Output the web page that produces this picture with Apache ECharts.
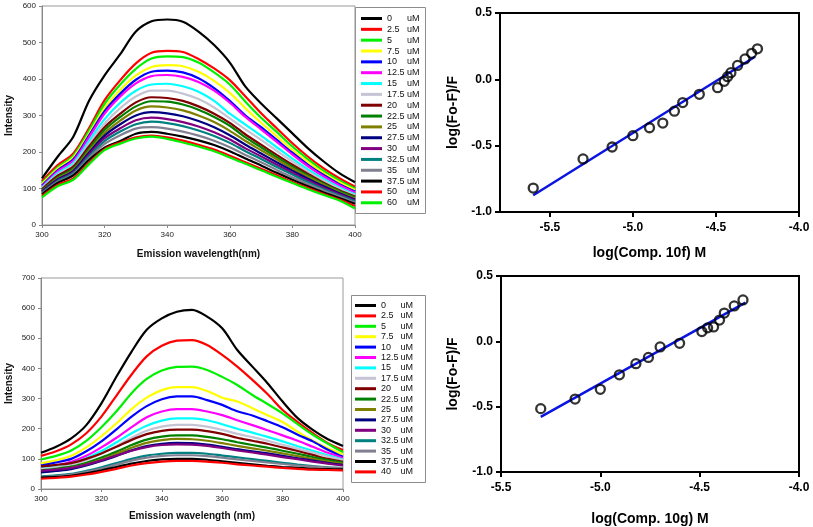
<!DOCTYPE html>
<html><head><meta charset="utf-8">
<script src="https://cdn.jsdelivr.net/npm/echarts@6/dist/echarts.min.js"></script>
<style>html,body{margin:0;padding:0;background:#fff}#c{width:813px;height:527px}</style>
</head><body><div id="c"></div>
<script>
// ---------- DATA ----------
const wavelengths = [300,305,310,315,320,325,330,335,340,345,350,355,360,365,370,375,380,385,390,395,400];

const concA = ["0","2.5","5","7.5","10","12.5","15","17.5","20","22.5","25","27.5","30","32.5","35","37.5","50","60"];
const concB = ["0","2.5","5","7.5","10","12.5","15","17.5","20","22.5","25","27.5","30","32.5","35","37.5","40"];

// Panel A (Comp. 10f) spectra
const A_0    = [128,187,242,340,410,468,530,558,563,557,530,493,445,379,333,292,251,210,174,142,117];
const A_2_5  = [120,164,196,265,342,397,443,472,477,474,455,429,397,352,306,265,224,187,155,128,105];
const A_5    = [115,158,190,258,332,385,428,456,462,460,445,418,385,338,294,255,215,180,148,122,100];
const A_7_5  = [112,154,185,250,320,370,410,433,438,435,420,395,362,320,280,243,205,172,142,117,96];
const A_10   = [108,150,180,245,312,360,398,420,423,418,402,375,340,300,268,233,198,165,137,112,92];
const A_12_5 = [105,147,176,240,305,352,388,408,411,406,392,368,335,296,262,228,193,161,133,109,89];
const A_15   = [102,142,170,230,290,335,368,385,387,380,365,340,305,275,245,213,182,152,126,103,84];
const A_17_5 = [100,138,165,222,278,320,352,368,368,360,345,322,292,262,233,203,174,146,121,99,81];
const A_20   = [98,135,160,215,268,305,336,350,348,340,325,305,280,248,220,192,165,140,116,95,78];
const A_22_5 = [95,130,155,208,260,296,325,339,338,330,316,296,272,240,213,186,160,136,113,93,76];
const A_25   = [93,127,151,203,252,286,314,325,322,314,300,282,258,230,205,180,155,132,110,90,73];
const A_27_5 = [92,125,148,198,245,276,300,309,306,298,285,268,246,220,196,172,149,127,106,87,70];
const A_30   = [90,122,145,193,238,265,287,294,290,282,270,254,234,210,188,165,143,122,102,84,67];
const A_32_5 = [88,120,142,188,230,256,276,283,279,271,259,244,225,202,181,159,138,117,98,81,64];
const A_35   = [86,117,139,183,222,246,264,268,264,256,245,231,213,192,172,151,131,112,94,78,61];
const A_37_5 = [84,115,136,178,212,230,250,255,250,242,232,219,202,182,163,143,124,106,89,74,58];
const A_50   = [80,110,128,170,208,226,240,245,240,231,220,207,190,172,154,136,118,101,85,70,52];
const A_60   = [76,106,124,166,205,223,237,242,236,226,215,202,185,168,150,132,115,98,82,67,45];

// Panel B (Comp. 10g) spectra
const B_0    = [120,140,168,212,284,373,456,528,566,588,594,572,533,461,406,351,290,235,196,165,143];
const B_2_5  = [110,125,148,185,240,310,380,440,475,492,494,478,445,406,362,315,262,222,185,152,129];
const B_5    = [98,110,128,160,205,258,318,365,393,405,406,395,372,345,312,282,251,215,180,150,122];
const B_7_5  = [85,95,110,138,175,218,265,303,328,338,338,325,303,290,268,245,222,190,160,135,114];
const B_10   = [78,88,100,125,158,198,240,275,298,307,307,295,279,258,244,225,205,180,158,130,107];
const B_12_5 = [70,78,90,110,138,170,205,238,257,265,265,257,245,228,212,195,178,160,140,120,103];
const B_15   = [68,75,85,102,126,155,185,210,227,234,234,228,215,200,187,173,158,142,127,112,98];
const B_17_5 = [66,72,80,96,118,143,170,193,207,213,213,207,196,183,172,160,147,134,121,108,96];
const B_20   = [75,80,86,100,118,140,163,182,193,197,197,192,183,170,160,150,138,126,113,100,90];
const B_22_5 = [62,67,74,87,104,124,146,164,174,178,178,173,165,155,146,137,127,117,106,96,88];
const B_25   = [58,63,70,82,98,117,137,153,162,166,165,160,152,143,135,127,118,109,100,91,84];
const B_27_5 = [55,60,66,78,93,110,128,142,150,153,152,147,140,132,125,118,110,102,94,86,80];
const B_30   = [60,64,70,81,95,111,127,139,146,148,147,143,136,128,121,114,106,99,91,84,78];
const B_32_5 = [42,45,50,60,72,86,100,111,117,120,120,117,111,105,99,93,87,81,76,72,70];
const B_35   = [40,43,48,57,68,81,94,104,110,112,112,109,104,98,93,88,83,78,74,71,69];
const B_37_5 = [38,40,44,52,62,73,84,93,98,100,100,97,92,87,82,77,73,70,67,66,65];
const B_40   = [34,37,41,48,57,67,78,86,91,93,93,91,87,82,78,74,70,67,64,63,62];

// Double-log plots
const logC_10f = [-5.60,-5.30,-5.125,-5.00,-4.90,-4.82,-4.75,-4.70,-4.60,-4.49,-4.45,-4.43,-4.41,-4.37,-4.325,-4.285,-4.25];
const logQ_10f = [-0.82,-0.60,-0.51,-0.425,-0.365,-0.33,-0.24,-0.175,-0.113,-0.063,-0.015,0.02,0.05,0.105,0.154,0.196,0.23];
const fitX_10f = [-5.60,-4.265];
const fitY_10f = [-0.874,0.17];

const logC_10g = [-5.30,-5.127,-5.00,-4.904,-4.821,-4.758,-4.699,-4.601,-4.489,-4.46,-4.43,-4.40,-4.376,-4.326,-4.282];
const logQ_10g = [-0.515,-0.442,-0.367,-0.256,-0.171,-0.123,-0.043,-0.015,0.075,0.103,0.11,0.163,0.216,0.271,0.317];
const fitX_10g = [-5.30,-4.27];
const fitY_10g = [-0.578,0.296];

const ticksX_10f = [-5.5,-5.0,-4.5,-4.0];
const ticksX_10g = [-5.5,-5.0,-4.5,-4.0];

// ---------- STYLE ----------
const colorsA = ['#000000','#ff0000','#00f000','#ffff00','#0000ff','#ff00ff','#00ffff','#c4c4d4','#800000','#008000','#808000','#000080','#800080','#008080','#808090','#000000','#ff0000','#00f000'];
const colorsB = ['#000000','#ff0000','#00f000','#ffff00','#0000ff','#ff00ff','#00ffff','#c4c4d4','#800000','#008000','#808000','#000080','#800080','#008080','#808090','#000000','#ff0000'];
const seriesA = [A_0,A_2_5,A_5,A_7_5,A_10,A_12_5,A_15,A_17_5,A_20,A_22_5,A_25,A_27_5,A_30,A_32_5,A_35,A_37_5,A_50,A_60];
const seriesB = [B_0,B_2_5,B_5,B_7_5,B_10,B_12_5,B_15,B_17_5,B_20,B_22_5,B_25,B_27_5,B_30,B_32_5,B_35,B_37_5,B_40];

const FF = "'Liberation Sans', Arial, sans-serif";
const pair = (xs, ys) => xs.map((x, i) => [x, ys[i]]);

const series = [];
seriesA.forEach((arr, i) => {
  series.push({type:'line', name: concA[i] + ' uM', xAxisIndex:0, yAxisIndex:0,
    data: pair(wavelengths, arr), symbol:'none', smooth:0.3,
    lineStyle:{width:2.2, color:colorsA[i]}, itemStyle:{color:colorsA[i]}, z: 2});
});
seriesB.forEach((arr, i) => {
  series.push({type:'line', name: concB[i] + ' uM', xAxisIndex:2, yAxisIndex:2,
    data: pair(wavelengths, arr), symbol:'none', smooth:0.3,
    lineStyle:{width:2.2, color:colorsB[i]}, itemStyle:{color:colorsB[i]}, z: 2});
});
series.push({type:'line', name:'fit10f', xAxisIndex:1, yAxisIndex:1, data: pair(fitX_10f, fitY_10f),
  symbol:'none', lineStyle:{width:2.5, color:'#0a14e0'}, z:3});
series.push({type:'scatter', name:'pts10f', xAxisIndex:1, yAxisIndex:1, data: pair(logC_10f, logQ_10f),
  symbol:'circle', symbolSize:9, itemStyle:{color:'rgba(0,0,0,0)', borderColor:'#000', borderWidth:2.3}, z:4});
series.push({type:'line', name:'fit10g', xAxisIndex:3, yAxisIndex:3, data: pair(fitX_10g, fitY_10g),
  symbol:'none', lineStyle:{width:2.5, color:'#0a14e0'}, z:3});
series.push({type:'scatter', name:'pts10g', xAxisIndex:3, yAxisIndex:3, data: pair(logC_10g, logQ_10g),
  symbol:'circle', symbolSize:9, itemStyle:{color:'rgba(0,0,0,0)', borderColor:'#000', borderWidth:2.3}, z:4});

function specX(name, gap){
  return {type:'value', min:300, max:400, interval:20,
    axisLine:{show:true, onZero:false, lineStyle:{color:'#888', width:1}},
    axisTick:{show:true, inside:false, length:3, lineStyle:{color:'#888'}},
    axisLabel:{fontSize:8, color:'#222', fontFamily:FF, margin:6},
    splitLine:{show:false},
    name:name, nameLocation:'middle', nameGap:gap,
    nameTextStyle:{fontSize:10, fontWeight:'bold', color:'#111', fontFamily:FF}};
}
function specY(max, gap){
  return {type:'value', min:0, max:max, interval:100,
    axisLine:{show:true, onZero:false, lineStyle:{color:'#888', width:1}},
    axisTick:{show:true, inside:false, length:3, lineStyle:{color:'#888'}},
    axisLabel:{fontSize:8, color:'#222', fontFamily:FF, margin:6},
    splitLine:{show:false},
    name:'Intensity', nameLocation:'middle', nameGap:gap, nameRotate:90,
    nameTextStyle:{fontSize:10, fontWeight:'bold', color:'#111', fontFamily:FF}};
}
function logX(min, ticks, name, gap){
  return {type:'value', min:min, max:-4.0,
    axisLine:{show:true, onZero:false, lineStyle:{color:'#000', width:2}},
    axisTick:{show:true, length:5, customValues:ticks, lineStyle:{color:'#000', width:2}},
    axisLabel:{customValues:ticks, fontSize:12, fontWeight:'bold', color:'#000', fontFamily:FF, margin:10,
      formatter:v => v.toFixed(1)},
    splitLine:{show:false},
    name:name, nameLocation:'middle', nameGap:gap,
    nameTextStyle:{fontSize:14, fontWeight:'bold', color:'#000', fontFamily:FF}};
}
function logY(gap){
  return {type:'value', min:-1.0, max:0.5, interval:0.5,
    axisLine:{show:true, onZero:false, lineStyle:{color:'#000', width:2}},
    axisTick:{show:true, length:5, lineStyle:{color:'#000', width:2}},
    axisLabel:{fontSize:12, fontWeight:'bold', color:'#000', fontFamily:FF, margin:8,
      formatter:v => v.toFixed(1)},
    splitLine:{show:false},
    name:'log(Fo-F)/F', nameLocation:'middle', nameGap:gap, nameRotate:90,
    nameTextStyle:{fontSize:14, fontWeight:'bold', color:'#000', fontFamily:FF}};
}

function legendFmt(name){
  const num = name.replace(' uM','');
  return '{n|' + num + '}{u|uM}';
}

const option = {
  animation:false,
  backgroundColor:'#fff',
  grid:[
    {left:42, top:6, width:313, height:219, show:true, borderColor:'#999', borderWidth:1, backgroundColor:'transparent'},
    {left:500, top:13, width:299, height:199, show:true, borderColor:'#000', borderWidth:2, backgroundColor:'transparent'},
    {left:41, top:278, width:302, height:211, show:true, borderColor:'#999', borderWidth:1, backgroundColor:'transparent'},
    {left:501, top:276, width:298, height:199, show:true, borderColor:'#000', borderWidth:2, backgroundColor:'transparent'}
  ],
  xAxis:[
    Object.assign(specX('Emission wavelength(nm)', 24), {gridIndex:0}),
    Object.assign(logX(-5.8, ticksX_10f, 'log(Comp. 10f) M', 34), {gridIndex:1}),
    Object.assign(specX('Emission wavelength (nm)', 22), {gridIndex:2}),
    Object.assign(logX(-5.5, ticksX_10g, 'log(Comp. 10g) M', 40), {gridIndex:3})
  ],
  yAxis:[
    Object.assign(specY(600, 28), {gridIndex:0}),
    Object.assign(logY(40), {gridIndex:1}),
    Object.assign(specY(700, 27), {gridIndex:2}),
    Object.assign(logY(41), {gridIndex:3})
  ],
  legend:[
    {left:361, top:14, orient:'vertical', padding:0, itemWidth:21, itemHeight:3, itemGap:1.84,
     icon:'rect', selectedMode:false, data: concA.map(c => c + ' uM'), formatter: legendFmt,
     textStyle:{fontFamily:FF, color:'#111', fontSize:9,
       rich:{n:{width:20, fontSize:9, fontFamily:FF, color:'#111'},
             u:{fontSize:9, fontFamily:FF, color:'#111'}}}},
    {left:355, top:301, orient:'vertical', padding:0, itemWidth:21, itemHeight:3, itemGap:1.4,
     icon:'rect', selectedMode:false, data: concB.map(c => c + ' uM'), formatter: legendFmt,
     textStyle:{fontFamily:FF, color:'#111', fontSize:9,
       rich:{n:{width:19.5, fontSize:9, fontFamily:FF, color:'#111'},
             u:{fontSize:9, fontFamily:FF, color:'#111'}}}}
  ],
  graphic:[
    {type:'rect', shape:{x:355.5, y:7.5, width:70, height:206}, style:{fill:'none', stroke:'#8c8c8c', lineWidth:1}, z:-1},
    {type:'rect', shape:{x:351.5, y:295.5, width:74, height:187}, style:{fill:'none', stroke:'#8c8c8c', lineWidth:1}, z:-1}
  ],
  series: series
};

const chart = echarts.init(document.getElementById('c'), null, {renderer:'canvas'});
chart.setOption(option);
</script>
</body></html>
